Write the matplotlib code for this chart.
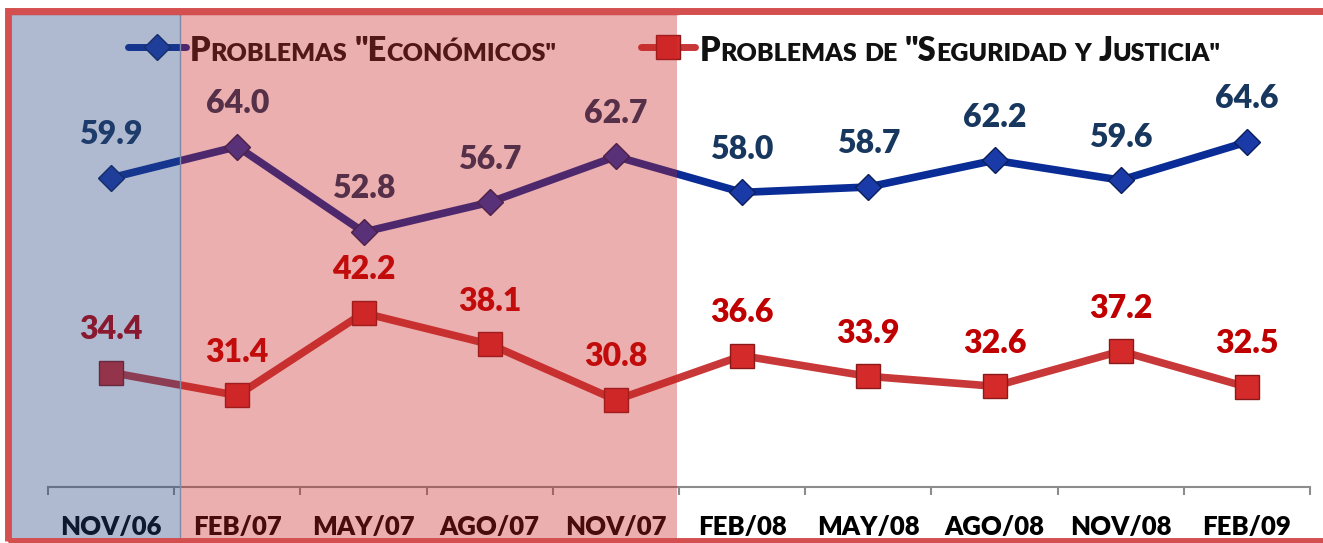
import matplotlib
matplotlib.use("Agg")
import matplotlib.pyplot as plt
from matplotlib.patches import Rectangle
from matplotlib.lines import Line2D

periods = ["NOV/06", "FEB/07", "MAY/07", "AGO/07", "NOV/07",
           "FEB/08", "MAY/08", "AGO/08", "NOV/08", "FEB/09"]
economicos = [59.9, 64.0, 52.8, 56.7, 62.7, 58.0, 58.7, 62.2, 59.6, 64.6]
seguridad = [34.4, 31.4, 42.2, 38.1, 30.8, 36.6, 33.9, 32.6, 37.2, 32.5]

W, H = 1323, 543
font = "Lato"

blue_line = "#0a2c96"
blue_text = "#17375e"
red_line = "#c83838"
red_text = "#c00000"

fig = plt.figure(figsize=(W / 100, H / 100), dpi=100)
fig.patch.set_facecolor("white")

# plot area in pixels: x 48..1310, y 85..487 (from top)
ax = fig.add_axes([48 / W, (H - 487) / H, (1310 - 48) / W, (487 - 85.5) / H])
ax.set_xlim(-0.5, 9.5)
ax.set_ylim(19.4, 72)
ax.patch.set_alpha(0)

x = list(range(len(periods)))

ax.plot(x, economicos, color=blue_line, linewidth=5.5, marker="D",
        markersize=13, markerfacecolor="#1a3aa8", markeredgecolor="#0a1f5a",
        markeredgewidth=1, zorder=3)
ax.plot(x, seguridad, color=red_line, linewidth=5.5, marker="s",
        markersize=17, markerfacecolor="#d42a2a", markeredgecolor="#8a1a1a",
        markeredgewidth=1, zorder=3)

for xi, v in zip(x, economicos):
    ax.annotate(f"{v:.1f}", (xi, v), xytext=(0, 31), textcoords="offset points",
                ha="center", va="center", fontsize=23, fontweight="heavy",
                family=font, color=blue_text, zorder=4)
for xi, v in zip(x, seguridad):
    ax.annotate(f"{v:.1f}", (xi, v), xytext=(0, 31), textcoords="offset points",
                ha="center", va="center", fontsize=23, fontweight="heavy",
                family=font, color=red_text, zorder=4)

for s in ["top", "right", "left"]:
    ax.spines[s].set_visible(False)
ax.spines["bottom"].set_color("#8c8c8c")
ax.spines["bottom"].set_linewidth(1.5)
ax.set_yticks([])
ax.set_xticks(x)
ax.set_xticklabels(periods, fontsize=18.5, fontweight="heavy", family=font,
                   color="black")
ax.tick_params(axis="x", which="major", length=0, pad=20)
ax.set_xticks([i - 0.5 for i in range(len(periods) + 1)], minor=True)
ax.tick_params(axis="x", which="minor", length=6, width=1.5,
               color="#8c8c8c", direction="out")

# legend drawn as small caps
renderer = fig.canvas.get_renderer()


def small_caps(x_px, y_px, parts, color):
    xx = x_px
    for txt, size, gap in parts:
        t = fig.text(xx / W, (H - y_px) / H, txt, fontsize=size,
                     fontweight="heavy", family=font, color=color,
                     ha="left", va="baseline", zorder=3)
        xx += t.get_window_extent(renderer).width + gap


big, small = 23.5, 18
fig.add_artist(Line2D([128 / W, 157 / W, 186 / W], [(H - 47) / H] * 3,
                      transform=fig.transFigure, color=blue_line, linewidth=5,
                      marker="D", markevery=[1], markersize=13,
                      markerfacecolor="#1a3aa8", markeredgecolor="#0a1f5a",
                      solid_capstyle="round", zorder=3))
small_caps(190, 61, [("P", big, 0), ("ROBLEMAS", small, 7),
                     ('"E', big, 0), ('CONÓMICOS"', small, 0)], "#111111")

fig.add_artist(Line2D([641 / W, 668 / W, 695 / W], [(H - 47) / H] * 3,
                      transform=fig.transFigure, color=red_line, linewidth=5,
                      marker="s", markevery=[1], markersize=17,
                      markerfacecolor="#d42a2a", markeredgecolor="#8a1a1a",
                      solid_capstyle="round", zorder=3))
small_caps(700, 61, [("P", big, 0), ("ROBLEMAS", small, 7), ("DE", small, 7),
                     ('"S', big, 0), ("EGURIDAD", small, 7), ("Y", small, 7),
                     ("J", big, 0), ('USTICIA"', small, 0)], "#111111")

# overlays on top of the chart
fig.add_artist(Rectangle((180 / W, 3 / H), (677 - 180) / W, (H - 15) / H,
                         transform=fig.transFigure,
                         facecolor=(200 / 255, 35 / 255, 35 / 255),
                         alpha=0.36, edgecolor="none", zorder=5))
fig.add_artist(Rectangle((12 / W, 3 / H), (180 - 12) / W, (H - 15) / H,
                         transform=fig.transFigure,
                         facecolor=(40 / 255, 70 / 255, 130 / 255),
                         alpha=0.37, edgecolor="none", zorder=5))
fig.add_artist(Line2D([180 / W, 180 / W], [3 / H, (H - 12) / H],
                      transform=fig.transFigure, color="#7f8aa8",
                      linewidth=1, zorder=6))
fig.add_artist(Line2D([11 / W, 677 / W], [(H - 13) / H] * 2,
                      transform=fig.transFigure, color="#b02020",
                      linewidth=2.5, alpha=0.7, zorder=6))
fig.add_artist(Rectangle((8 / W, 2 / H), 1.1, (H - 13) / H,
                         transform=fig.transFigure, facecolor="none",
                         edgecolor="#d45050", linewidth=5, zorder=7))

fig.savefig("out.png", dpi=100)
